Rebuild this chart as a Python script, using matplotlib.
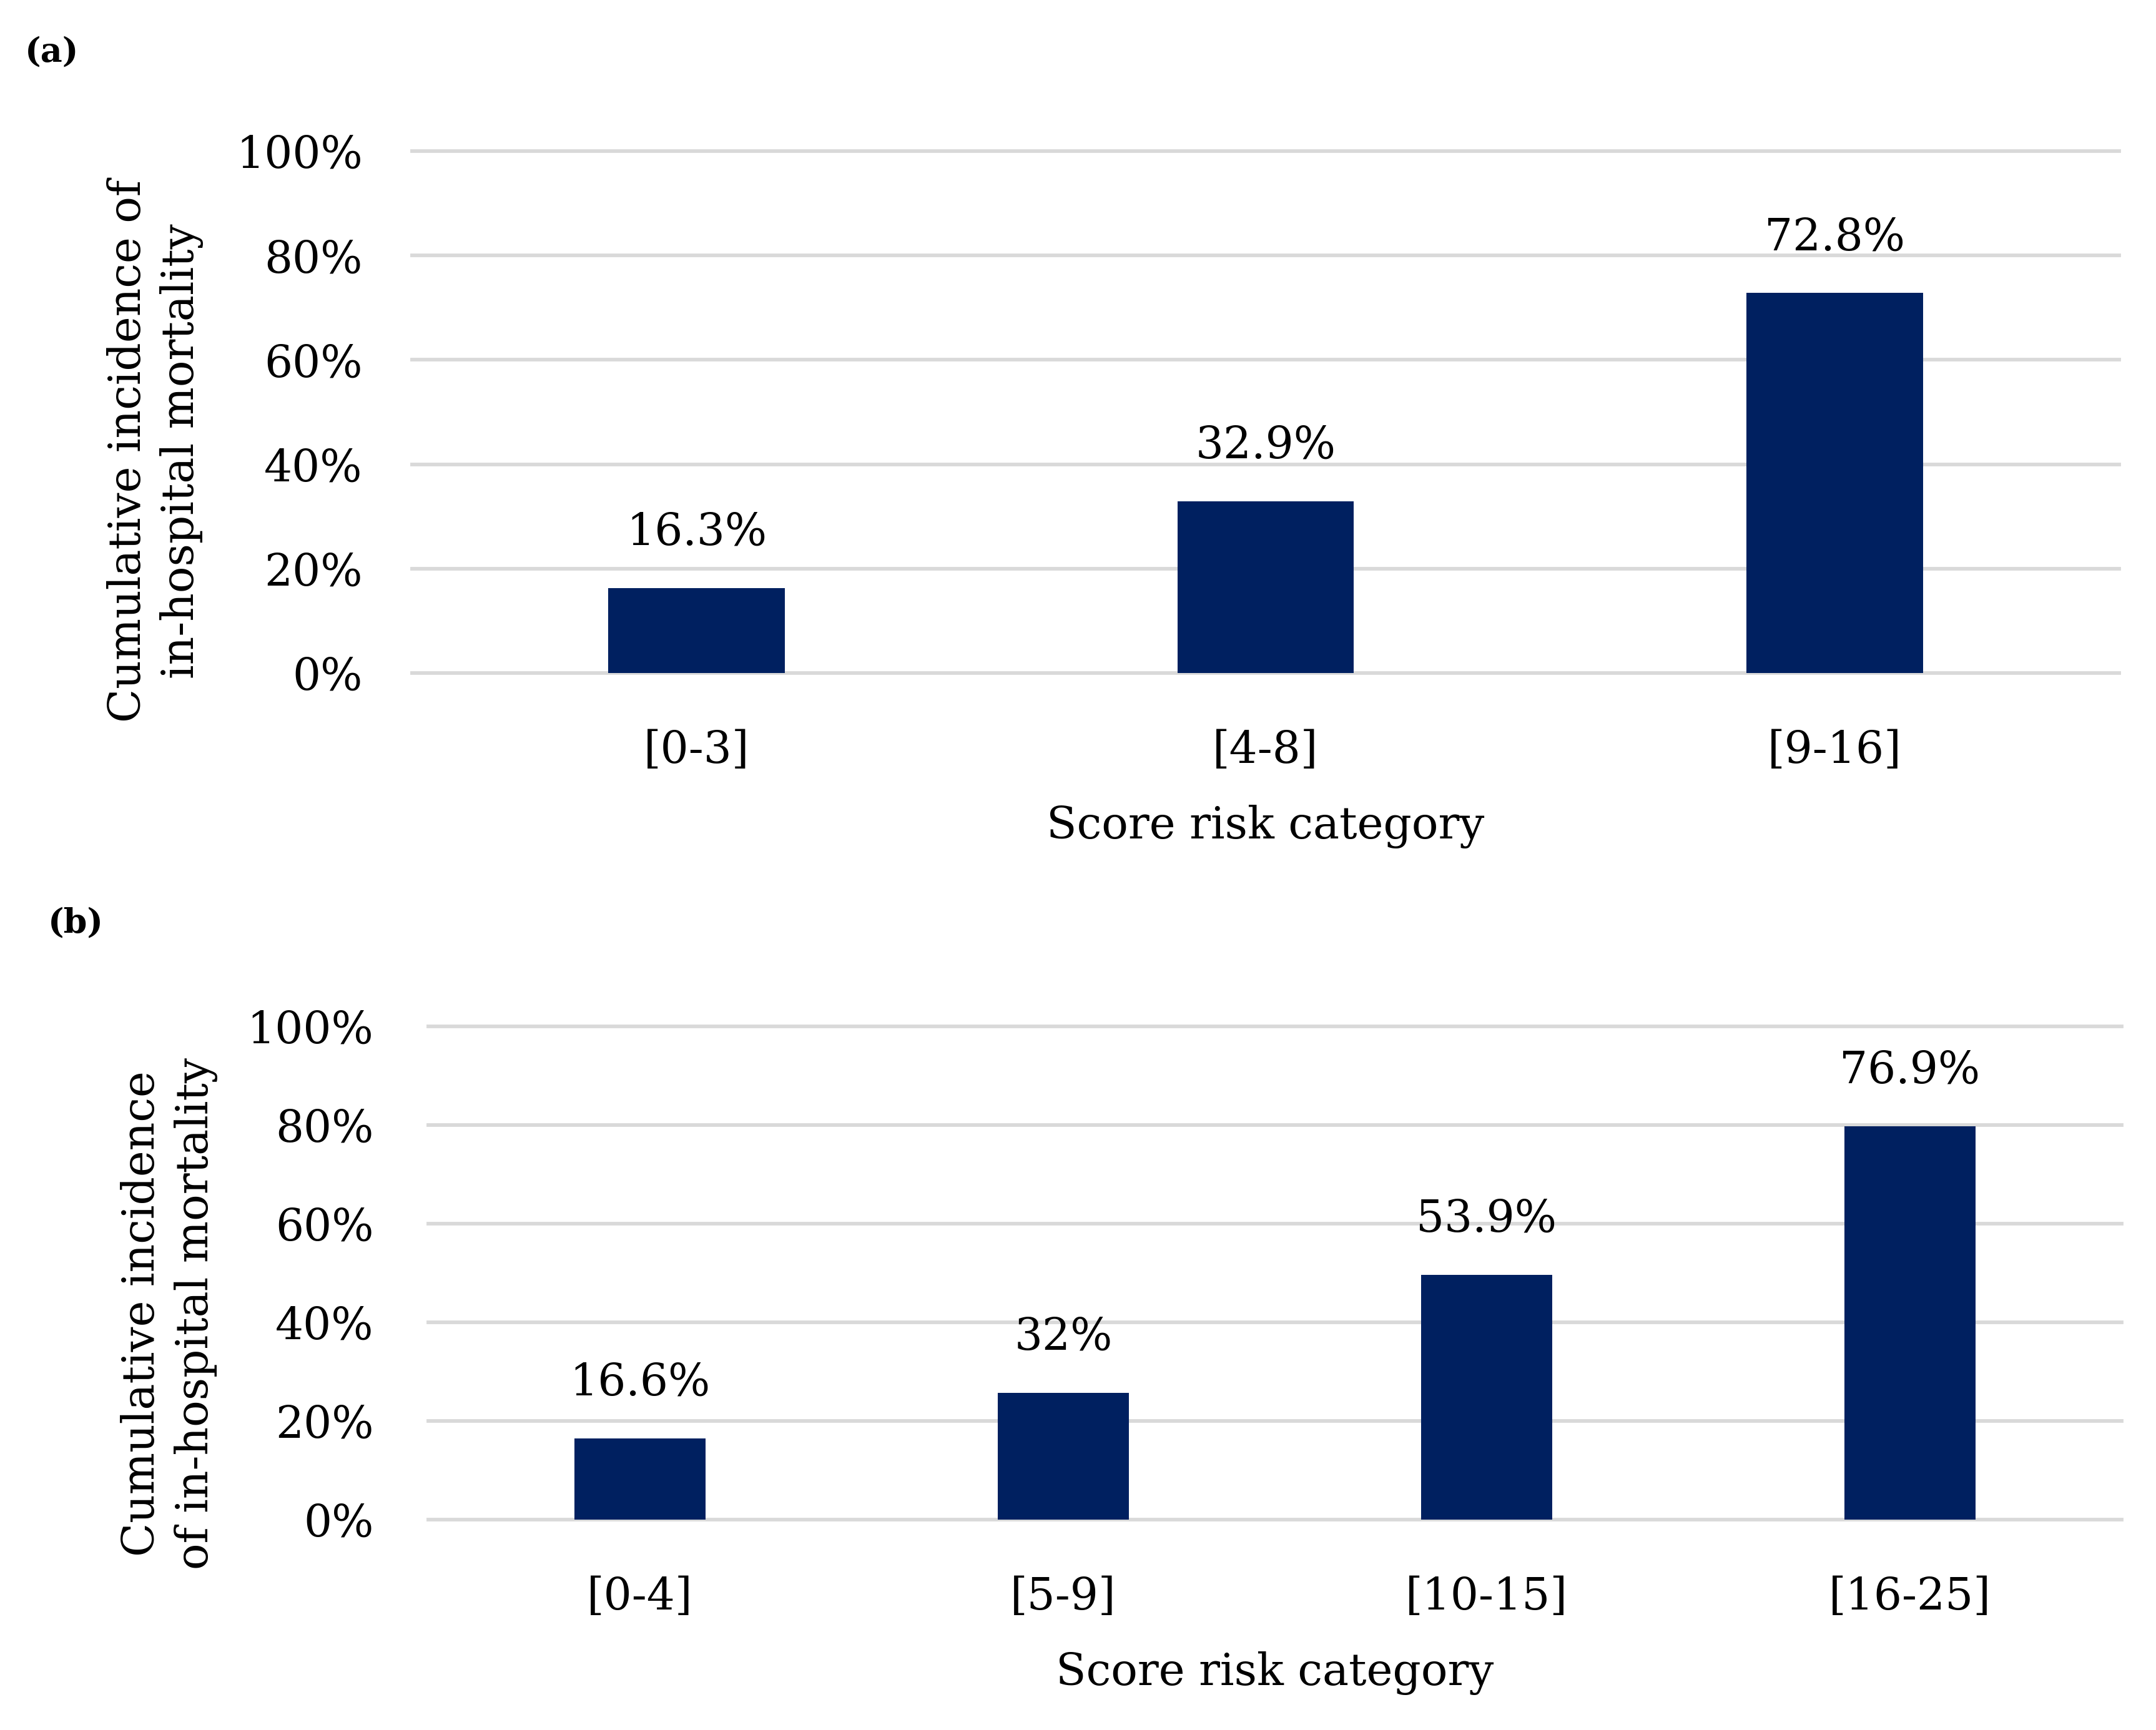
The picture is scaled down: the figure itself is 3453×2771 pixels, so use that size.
import matplotlib
matplotlib.use("Agg")
import matplotlib.pyplot as plt
from matplotlib.ticker import PercentFormatter
import numpy as np

# panel (a)
cats_a = ['[0-3]', '[4-8]', '[9-16]']
vals_a = [0.163, 0.329, 0.728]
labels_a = ['16.3%', '32.9%', '72.8%']

# panel (b) - bars are drawn at the heights seen in the figure,
# the printed labels do not all agree with them
cats_b = ['[0-4]', '[5-9]', '[10-15]', '[16-25]']
vals_b = [0.165, 0.257, 0.496, 0.798]
labels_b = ['16.6%', '32%', '53.9%', '76.9%']

plt.rcParams['font.family'] = ['DejaVu Serif']

W, H = 3453, 2771
fig = plt.figure(figsize=(W / 300, H / 300), dpi=300)

navy = '#002060'
grid_c = '#d9d9d9'
fs = 17


def panel(rect, cats, vals, labels, ylab, lab_xy, ytick_pad, tag, tag_xy):
    ax = fig.add_axes(rect)
    ind = np.arange(len(cats))
    ax.bar(ind, vals, 0.31, color=navy, zorder=3)
    ax.set_xlim(-0.5, len(cats) - 0.5)
    ax.set_ylim(0, 1)
    ax.set_yticks(np.arange(0, 1.01, 0.2))
    ax.yaxis.set_major_formatter(PercentFormatter(1.0, decimals=0))
    ax.set_xticks(ind)
    ax.set_xticklabels(cats)
    ax.tick_params(axis='both', length=0, labelsize=fs, colors='black')
    ax.tick_params(axis='x', pad=21.5)
    ax.tick_params(axis='y', pad=ytick_pad)
    for s in ax.spines.values():
        s.set_visible(False)
    ax.yaxis.grid(True, color=grid_c, linewidth=1.4)
    for gl in ax.get_ygridlines():
        gl.set_clip_on(False)
    ax.set_axisbelow(True)
    for x, v, t in zip(ind, vals, labels):
        ax.annotate(t, (x, v), xytext=(0, 13), textcoords='offset points',
                    ha='center', va='bottom', fontsize=fs)
    ax.set_xlabel('Score risk category', fontsize=fs, labelpad=12.5)
    ax.text(lab_xy[0], lab_xy[1], ylab, transform=ax.transAxes, rotation=90,
            ha='center', va='center', fontsize=fs, multialignment='center',
            linespacing=1.3)
    fig.text(tag_xy[0], tag_xy[1], tag, fontsize=13, fontweight='bold',
             ha='left', va='center')
    return ax


panel([660 / W, 1 - 1078 / H, 2734 / W, 836 / H], cats_a, vals_a, labels_a,
      'Cumulative incidence of\nin-hospital mortality', (-0.1505, 0.425), 19,
      '(a)', (40 / W, 1 - 84 / H))

panel([686 / W, 1 - 2434 / H, 2712 / W, 790 / H], cats_b, vals_b, labels_b,
      'Cumulative incidence\nof in-hospital mortality', (-0.153, 0.418), 21,
      '(b)', (77 / W, 1 - 1479 / H))

fig.savefig('out.png', dpi=300)
